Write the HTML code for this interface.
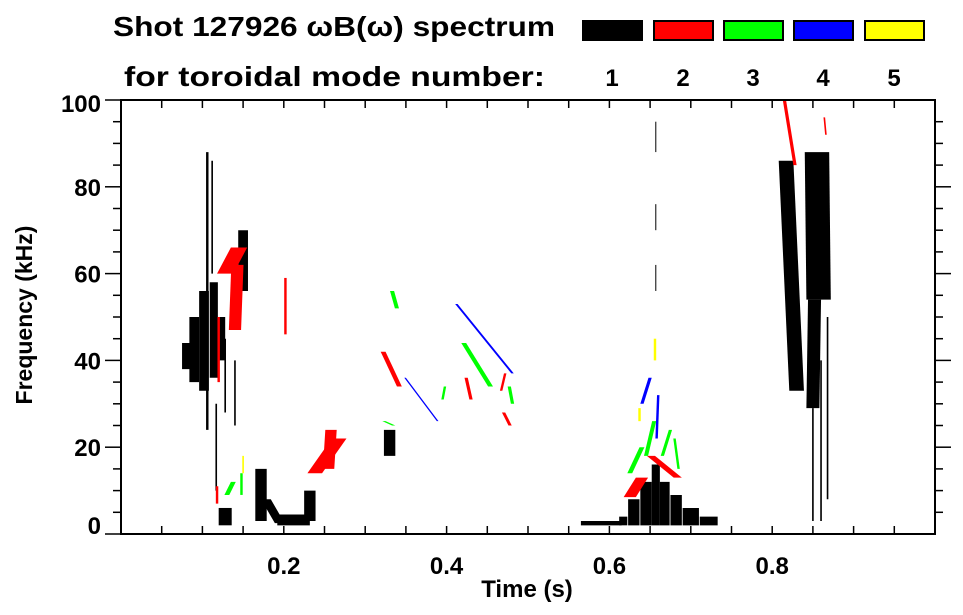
<!DOCTYPE html>
<html><head><meta charset="utf-8">
<style>
html,body{margin:0;padding:0;background:#fff;}
svg{display:block;font-family:"Liberation Sans",Arial,sans-serif;font-weight:bold;}
</style></head>
<body>
<svg id="chart" width="963" height="615" viewBox="0 0 963 615" xmlns="http://www.w3.org/2000/svg">
  <text x="113" y="36" font-size="28" textLength="442" lengthAdjust="spacingAndGlyphs">Shot 127926 ωB(ω) spectrum</text>
  <text x="124" y="86" font-size="28" textLength="421" lengthAdjust="spacingAndGlyphs">for toroidal mode number:</text>
  <g id="legend"></g>
  <g id="marks"></g>
  <g id="axes"></g>
  <text x="527" y="597" font-size="24" text-anchor="middle">Time (s)</text>
  <text transform="translate(32,315) rotate(-90)" font-size="23" text-anchor="middle">Frequency (kHz)</text>
</svg>
<script>
// ---- data ----
const modeNumbers = [1, 2, 3, 4, 5];
const modeColors = ["#000000", "#ff0000", "#00ff00", "#0000ff", "#ffff00"];
const xTickLabels = [0.2, 0.4, 0.6, 0.8];
const yTickLabels = [0, 20, 40, 60, 80, 100];
// spectral features: mode, start time, start freq, end time, end freq, time width
const featMode = [1,1,1,1,1,1,1,1,1,1,1,1,1,1,1,1,1,1,1,1,1,1,1,1,1,1,1,1,1,1,1,1,1,1,1,1,
  2,2,2,2,2,2,2,2,2,2,2,2,2,2,2,
  3,3,3,3,3,3,3,3,3,3,3,
  4,4,4,4,
  5,5,5];
const featT1 = [.080,.090,.102,.114,.124,.106,.112,.150,.140,.128,.140,.117,.172,.178,.212,.232,.128,.330,.617,.630,.645,.657,.668,.682,.700,.722,.590,.817,.855,.852,.850,.860,.868,.657,.657,.657,
  .128,.140,.120,.202,.238,.255,.322,.424,.470,.625,.651,.815,.864,.118,.467,
  .333,.421,.477,.130,.148,.625,.645,.665,.680,.323,.395,
  .412,.349,.640,.658,
  .656,.637,.150];
const featF1 = [38,35,33,36,40,24,60,56,48,28,25,10,3,8,2,3,2,18,2,2,2,2,2,2,2,2,2,86,88,54,29,40,50,70,88,56,
  60,47,35,46,14,15,42,36,28,8.5,18,100,96,7,33,
  56,44,34,9,9,14,18,18,22,26,31,
  53,36,30,22,
  40,26,14];
const featT2 = [.080,.090,.102,.114,.124,.106,.112,.150,.140,.128,.140,.117,.172,.195,.212,.232,.128,.330,.617,.630,.645,.657,.668,.682,.700,.722,.590,.830,.857,.850,.850,.860,.868,.657,.657,.657,
  .145,.143,.120,.202,.268,.258,.342,.430,.478,.640,.684,.828,.866,.118,.472,
  .339,.454,.481,.138,.148,.640,.655,.675,.685,.335,.398,
  .481,.389,.650,.660,
  .656,.637,.150];
const featF2 = [44,50,56,58,50,88,86,70,60,45,40,30,15,2.5,4.5,10,6,24,4,8,12,16,12,9,6,4,3,33,54,29,3,3,8,76,95,62,
  66,62,50,59,22,24,34,31,25,13,13,85,92,11,37,
  52,34,30,12,14,20,26,24,15,25,34,
  37,26,36,32,
  45,29,18];
const featW = [.010,.012,.012,.010,.008,.003,.002,.012,.006,.002,.002,.002,.014,.012,.040,.014,.016,.014,.010,.014,.014,.010,.012,.014,.020,.022,.050,.018,.030,.016,.002,.002,.002,.001,.001,.001,
  .020,.015,.003,.003,.018,.014,.006,.004,.004,.015,.010,.004,.002,.003,.003,
  .005,.006,.004,.006,.003,.006,.005,.004,.003,.004,.003,
  .003,.002,.004,.003,
  .003,.003,.002];

// ---- axes geometry ----
const X0 = 121, X1 = 935, Y0 = 534, Y1 = 100;
const T_MIN = 0, T_MAX = 1.0, F_MIN = 0, F_MAX = 100;
const xScale = t => X0 + (t - T_MIN) / (T_MAX - T_MIN) * (X1 - X0);
const yScale = f => Y0 - (f - F_MIN) / (F_MAX - F_MIN) * (Y0 - Y1);
const NS = "http://www.w3.org/2000/svg";
function mk(tag, attrs, parent) {
  const e = document.createElementNS(NS, tag);
  for (const k in attrs) e.setAttribute(k, attrs[k]);
  parent.appendChild(e);
  return e;
}

// legend
const legend = document.getElementById("legend");
const lgX = [582, 653, 723, 793, 864];
modeNumbers.forEach((m, i) => {
  const r = mk("rect", {x: lgX[i] + 1, y: 21, width: 59, height: 19, fill: modeColors[i], stroke: "#000", "stroke-width": 2}, legend);
  
  
  const t = mk("text", {x: lgX[i] + 30, y: 86, "font-size": 24, "text-anchor": "middle"}, legend);
  t.textContent = m;
  
  
});

// marks
const marks = document.getElementById("marks");
for (let i = 0; i < featMode.length; i++) {
  const xa = xScale(featT1[i]), ya = yScale(featF1[i]);
  const xb = xScale(featT2[i]), yb = yScale(featF2[i]);
  const hw = Math.max(0.5, featW[i] / (T_MAX - T_MIN) * (X1 - X0) / 2);
  const pts = [[xa - hw, ya], [xa + hw, ya], [xb + hw, yb], [xb - hw, yb]].map(p => p.join(",")).join(" ");
  const p = mk("polygon", {points: pts, fill: modeColors[featMode[i] - 1]}, marks);
  
  
}

// axes
const axes = document.getElementById("axes");
const frame = mk("rect", {x: X0, y: Y1, width: X1 - X0, height: Y0 - Y1, fill: "none", stroke: "#000", "stroke-width": 2}, axes);


for (let t = 0.05; t < T_MAX - 1e-9; t += 0.05) {
  const x = xScale(t);
  mk("line", {x1: x, y1: Y0, x2: x, y2: Y0 - 8, stroke: "#000", "stroke-width": 1.5}, axes);
  mk("line", {x1: x, y1: Y1, x2: x, y2: Y1 + 8, stroke: "#000", "stroke-width": 1.5}, axes);
}
xTickLabels.forEach(v => {
  const t = mk("text", {x: xScale(v), y: 574, "font-size": 24, "text-anchor": "middle"}, axes);
  t.textContent = v.toFixed(1);
  
  
});
for (let f = 5; f < F_MAX; f += 5) {
  const y = yScale(f);
  const len = (f % 20 === 0) ? 16 : 8;
  mk("line", {x1: X0, y1: y, x2: X0 - len, y2: y, stroke: "#000", "stroke-width": 1.5}, axes);
  mk("line", {x1: X1, y1: y, x2: X1 + len, y2: y, stroke: "#000", "stroke-width": 1.5}, axes);
}
mk("line", {x1: X0, y1: Y0, x2: X0 - 16, y2: Y0, stroke: "#000", "stroke-width": 1.5}, axes);
mk("line", {x1: X0, y1: Y1, x2: X0 - 16, y2: Y1, stroke: "#000", "stroke-width": 1.5}, axes);
yTickLabels.forEach(v => {
  const y = Math.min(525, Math.max(103, yScale(v)));
  const t = mk("text", {x: 101, y: y + 9, "font-size": 24, "text-anchor": "end"}, axes);
  t.textContent = v;
  
  
});
</script>
</body></html>
